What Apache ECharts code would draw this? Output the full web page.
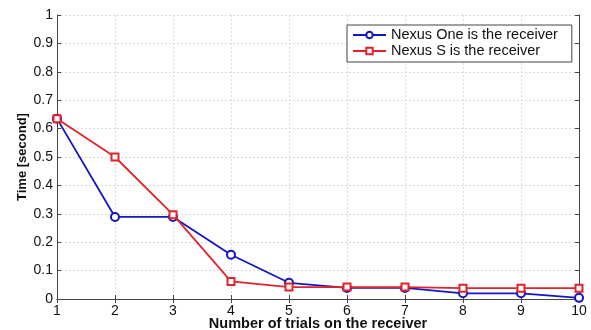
<!DOCTYPE html>
<html><head><meta charset="utf-8">
<script src="https://cdn.jsdelivr.net/npm/echarts@6/dist/echarts.min.js"></script>
<style>html,body{margin:0;padding:0;background:#fff}#c{width:591px;height:330px}</style>
</head><body><div id="c"></div>
<script>
const trials = [1,2,3,4,5,6,7,8,9,10];
const nexusOne = [0.635,0.289,0.289,0.156,0.057,0.039,0.039,0.020,0.020,0.004];
const nexusS = [0.635,0.500,0.297,0.062,0.042,0.042,0.042,0.038,0.038,0.038];
const yTicks = [0,0.1,0.2,0.3,0.4,0.5,0.6,0.7,0.8,0.9,1];
const font = 'Liberation Sans, Arial, sans-serif';
const chart = echarts.init(document.getElementById('c'));
const tickStyle = {show:true, inside:true, length:4, lineStyle:{color:'#444'}};
const axLine = {show:true, lineStyle:{color:'#444', width:1}};
const gridLine = {show:true, lineStyle:{color:'#dcdcdc', type:[2,2], width:1}};
chart.setOption({
  animation:false,
  grid:{left:57, right:12, top:15, bottom:31, containLabel:false, outerBoundsMode:'none'},
  legend:{
    orient:'vertical', left:347, top:25,
    backgroundColor:'#fff', borderColor:'#444', borderWidth:1,
    padding:[2,14,3,5], itemGap:0, itemWidth:33, itemHeight:8,
    textStyle:{fontFamily:font, fontSize:14.5, lineHeight:16, color:'#111'},
    data:['Nexus One is the receiver','Nexus S is the receiver']
  },
  xAxis:[{
    type:'value', min:1, max:10, interval:1, position:'bottom',
    name:'Number of trials on the receiver', nameLocation:'middle', nameGap:17, nameMoveOverlap:false,
    nameTextStyle:{fontFamily:font, fontSize:14.5, fontWeight:'bold', color:'#111'},
    axisLine:axLine, axisTick:tickStyle, splitLine:gridLine,
    axisLabel:{fontFamily:font, fontSize:14, color:'#111', margin:5}
  },{
    type:'value', min:1, max:10, interval:1, position:'top',
    axisLine:axLine, axisTick:tickStyle, axisLabel:{show:false}, splitLine:{show:false}
  }],
  yAxis:[{
    type:'value', min:0, max:1, interval:0.1, position:'left',
    name:'Time [second]', nameLocation:'middle', nameGap:28, nameMoveOverlap:false,
    nameTextStyle:{fontFamily:font, fontSize:13, fontWeight:'bold', color:'#111'},
    axisLine:axLine, axisTick:tickStyle, splitLine:gridLine,
    axisLabel:{fontFamily:font, fontSize:14, color:'#111', margin:4,
      formatter:v=>{const t=yTicks.find(x=>Math.abs(x-v)<1e-9);return t===undefined?'':String(t);}}
  },{
    type:'value', min:0, max:1, interval:0.1, position:'right',
    axisLine:axLine, axisTick:tickStyle, axisLabel:{show:false}, splitLine:{show:false}
  }],
  series:[{
    name:'Nexus One is the receiver', type:'line',
    data:trials.map((t,i)=>[t,nexusOne[i]]),
    symbol:'emptyCircle', symbolSize:8,
    lineStyle:{color:'#1414c4', width:1.8}, itemStyle:{color:'#1414c4', borderWidth:1.8}, z:3
  },{
    name:'Nexus S is the receiver', type:'line',
    data:trials.map((t,i)=>[t,nexusS[i]]),
    symbol:'emptyRect', symbolSize:7,
    lineStyle:{color:'#e0242a', width:1.8}, itemStyle:{color:'#e0242a', borderWidth:1.8}, z:4
  }]
});
</script></body></html>
